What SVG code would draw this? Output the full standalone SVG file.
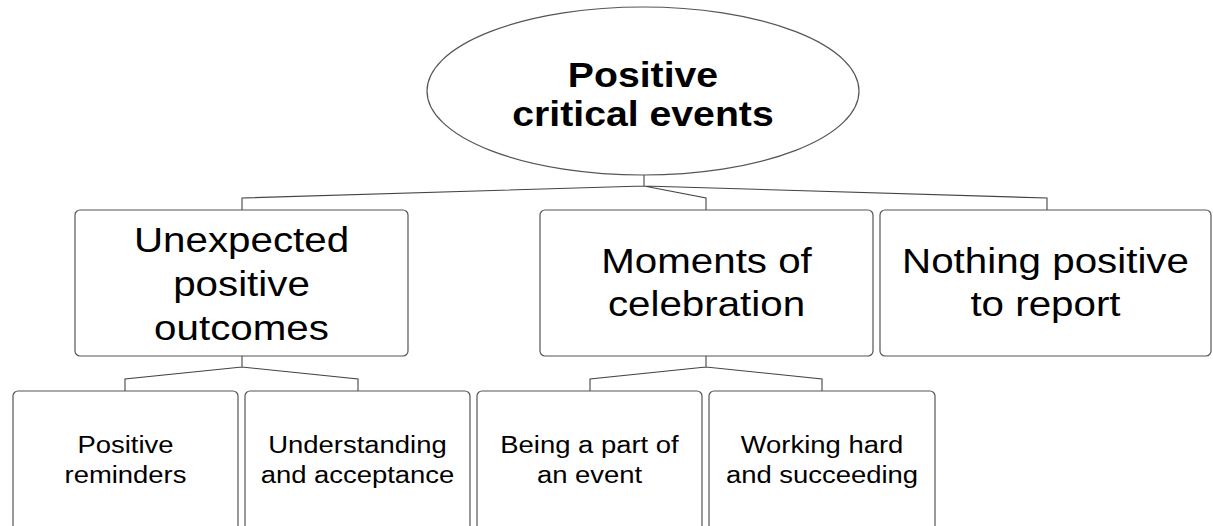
<svg xmlns="http://www.w3.org/2000/svg" width="1213" height="526" viewBox="0 0 1213 526">
<style>
.box{fill:#fff;stroke:#555;stroke-width:1.2}
.conn{fill:none;stroke:#444;stroke-width:1.1}
.t{font-family:"Liberation Sans",Arial,sans-serif;fill:#000;text-anchor:middle}
.title{font-size:35px;font-weight:bold}
.l1{font-size:36px}
.l2{font-size:24.5px}
</style>
<rect width="1213" height="526" fill="#fff"/>
<g id="connectors">
<path class="conn" d="M644,175 V186 M242,210 V198 L644,186 L706,198 V210 M644,186 L1047,198 V210"/>
<path class="conn" d="M242,356 V367 M125,391 V379 L242,367 L358,379 V391"/>
<path class="conn" d="M706,356 V367 M590,391 V379 L706,367 L822,379 V391"/>
</g>
<g id="root">
<ellipse class="box" cx="643" cy="91" rx="216" ry="84"/>
<g transform="translate(643,0) scale(1.12,1)">
<text class="t title" x="0" y="87">Positive</text>
<text class="t title" x="0" y="126">critical events</text>
</g>
</g>
<g id="unexpected">
<rect class="box" x="75" y="210" width="333" height="146" rx="5"/>
<g transform="translate(241.5,0) scale(1.12,1)">
<text class="t l1" x="0" y="252">Unexpected</text>
<text class="t l1" x="0" y="296">positive</text>
<text class="t l1" x="0" y="340">outcomes</text>
</g>
</g>
<g id="moments">
<rect class="box" x="540" y="210" width="333" height="146" rx="5"/>
<g transform="translate(706.5,0) scale(1.12,1)">
<text class="t l1" x="0" y="273">Moments of</text>
<text class="t l1" x="0" y="316">celebration</text>
</g>
</g>
<g id="nothing">
<rect class="box" x="880" y="210" width="331" height="146" rx="5"/>
<g transform="translate(1045.5,0) scale(1.12,1)">
<text class="t l1" x="0" y="273">Nothing positive</text>
<text class="t l1" x="0" y="316">to report</text>
</g>
</g>
<g id="reminders">
<rect class="box" x="13" y="391" width="225" height="150" rx="5"/>
<g transform="translate(125.5,0) scale(1.12,1)">
<text class="t l2" x="0" y="453">Positive</text>
<text class="t l2" x="0" y="483">reminders</text>
</g>
</g>
<g id="understanding">
<rect class="box" x="245" y="391" width="225" height="150" rx="5"/>
<g transform="translate(357.5,0) scale(1.12,1)">
<text class="t l2" x="0" y="453">Understanding</text>
<text class="t l2" x="0" y="483">and acceptance</text>
</g>
</g>
<g id="being">
<rect class="box" x="477" y="391" width="225" height="150" rx="5"/>
<g transform="translate(589.5,0) scale(1.12,1)">
<text class="t l2" x="0" y="453">Being a part of</text>
<text class="t l2" x="0" y="483">an event</text>
</g>
</g>
<g id="working">
<rect class="box" x="709" y="391" width="226" height="150" rx="5"/>
<g transform="translate(822,0) scale(1.12,1)">
<text class="t l2" x="0" y="453">Working hard</text>
<text class="t l2" x="0" y="483">and succeeding</text>
</g>
</g>
</svg>
